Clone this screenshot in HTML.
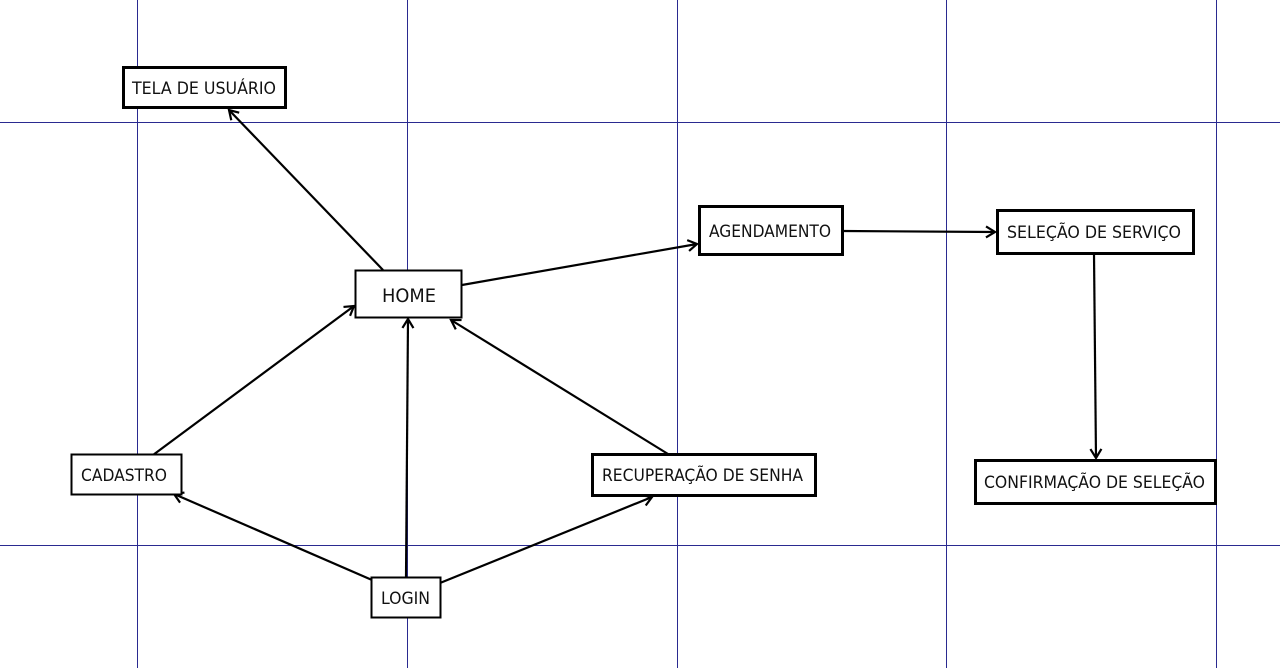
<!DOCTYPE html>
<html><head><meta charset="utf-8"><style>
body{margin:0;background:#fff;}
svg{display:block}
text{font-family:"DejaVu Sans Condensed","Liberation Sans",sans-serif;fill:#111;}
</style></head><body>
<svg width="1280" height="668" viewBox="0 0 1280 668" xmlns="http://www.w3.org/2000/svg">
<defs>
<marker id="a" markerWidth="14" markerHeight="14" refX="11" refY="7" orient="auto" markerUnits="userSpaceOnUse">
<path d="M2,1.5 L11,7 L2,12.5" fill="none" stroke="#000" stroke-width="2.2"/>
</marker>
</defs>
<g stroke="#2a2a90" stroke-width="1.2" shape-rendering="crispEdges">
<line x1="137.5" y1="0" x2="137.5" y2="668"/>
<line x1="407.5" y1="0" x2="407.5" y2="668"/>
<line x1="677.5" y1="0" x2="677.5" y2="668"/>
<line x1="946.5" y1="0" x2="946.5" y2="668"/>
<line x1="1216.5" y1="0" x2="1216.5" y2="668"/>
<line x1="0" y1="122.5" x2="1280" y2="122.5"/>
<line x1="0" y1="545.5" x2="1280" y2="545.5"/>
</g>
<g stroke="#000" stroke-width="2.2" fill="none" marker-end="url(#a)">
<line x1="383" y1="270" x2="229" y2="110"/>
<line x1="462" y1="285" x2="697" y2="244"/>
<line x1="843" y1="231" x2="995" y2="232"/>
<line x1="1094" y1="254" x2="1096" y2="458"/>
<line x1="153" y1="455" x2="354" y2="306"/>
<line x1="406" y1="577" x2="408" y2="319"/>
<line x1="668" y1="454" x2="451" y2="320"/>
<line x1="372" y1="580" x2="174" y2="494"/>
<line x1="440" y1="583" x2="652" y2="497"/>
</g>
<g fill="#fff" stroke="#000">
<rect x="123.5" y="67.5" width="162" height="40" stroke-width="3"/>
<rect x="355.5" y="270.5" width="106" height="47" stroke-width="2"/>
<rect x="699.5" y="206.5" width="143" height="48" stroke-width="3"/>
<rect x="997.5" y="210.5" width="196" height="43" stroke-width="3"/>
<rect x="71.5" y="454.5" width="110" height="40" stroke-width="2"/>
<rect x="592.5" y="454.5" width="223" height="41" stroke-width="3"/>
<rect x="975.5" y="460.5" width="240" height="43" stroke-width="3"/>
<rect x="371.5" y="577.5" width="69" height="40" stroke-width="2"/>
</g>
<g font-size="17" lengthAdjust="spacingAndGlyphs">
<text x="132" y="94" textLength="144" lengthAdjust="spacingAndGlyphs">TELA DE USUÁRIO</text>
<text x="382" y="302" font-size="19" textLength="54" lengthAdjust="spacingAndGlyphs">HOME</text>
<text x="709" y="237" textLength="122" lengthAdjust="spacingAndGlyphs">AGENDAMENTO</text>
<text x="1007" y="238" textLength="174" lengthAdjust="spacingAndGlyphs">SELEÇÃO DE SERVIÇO</text>
<text x="81" y="481" textLength="86" lengthAdjust="spacingAndGlyphs">CADASTRO</text>
<text x="602" y="481" textLength="201" lengthAdjust="spacingAndGlyphs">RECUPERAÇÃO DE SENHA</text>
<text x="984" y="488" textLength="221" lengthAdjust="spacingAndGlyphs">CONFIRMAÇÃO DE SELEÇÃO</text>
<text x="381" y="604" textLength="49" lengthAdjust="spacingAndGlyphs">LOGIN</text>
</g>
</svg>
</body></html>
